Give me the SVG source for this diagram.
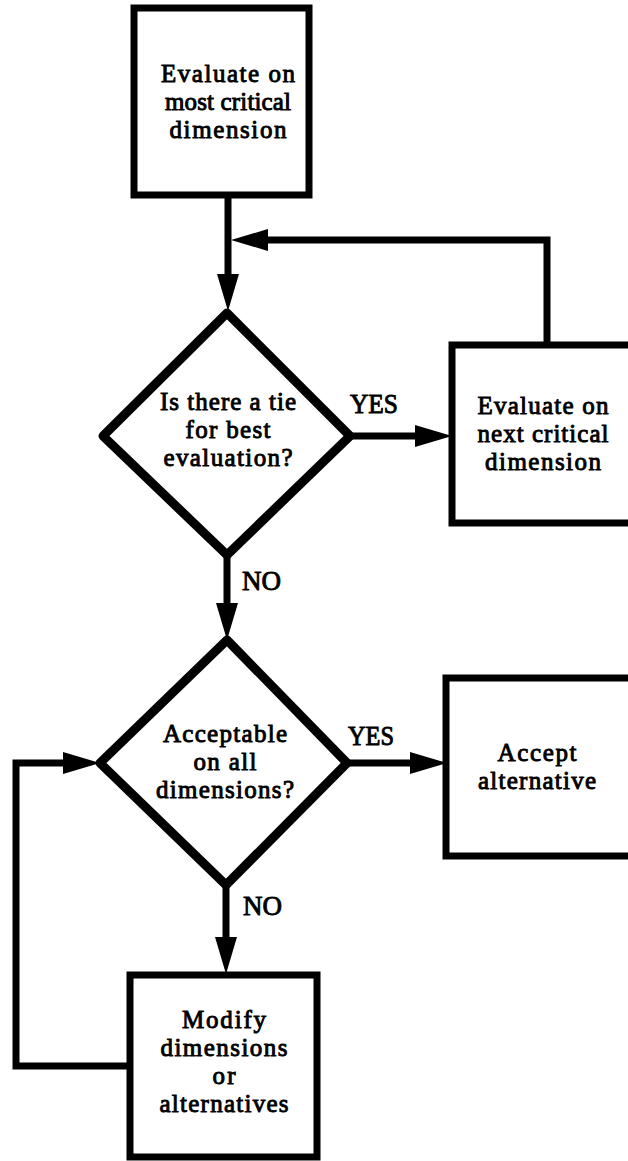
<svg xmlns="http://www.w3.org/2000/svg" width="628" height="1161" viewBox="0 0 628 1161">
  <style>
    .box { fill: #fff; stroke: #000; stroke-width: 7; stroke-linejoin: miter; }
    .dia { fill: #fff; stroke: #000; stroke-width: 9; stroke-linejoin: round; }
    .wire { fill: none; stroke: #000; stroke-width: 7; stroke-linejoin: miter; }
    text { font-family: "Liberation Serif", "Times New Roman", serif; font-size: 25px; fill: #000; stroke: #000; stroke-width: 0.9; }
    .lbl { text-anchor: middle; }
    .tag { font-size: 27px; }
  </style>
  <defs>
    <marker id="head" markerUnits="userSpaceOnUse" markerWidth="37" markerHeight="22" viewBox="0 0 37 22" refX="0" refY="11" orient="auto">
      <path d="M0,0 L37,11 L0,22 Z" fill="#000"/>
    </marker>
  </defs>
  <rect width="628" height="1161" fill="#fff"/>

  <g id="connectors">
    <path class="wire" d="M228,195 V274" marker-end="url(#head)"/>
    <path class="wire" d="M547,345 V240 H268" marker-end="url(#head)"/>
    <path class="wire" d="M350,436 H415" marker-end="url(#head)"/>
    <path class="wire" d="M227,555 V603" marker-end="url(#head)"/>
    <path class="wire" d="M347,763 H410" marker-end="url(#head)"/>
    <path class="wire" d="M226,885 V937" marker-end="url(#head)"/>
    <path class="wire" d="M130,1066 H16 V763 H63" marker-end="url(#head)"/>
    <text class="tag" x="350" y="413" textLength="48" lengthAdjust="spacingAndGlyphs">YES</text>
    <text class="tag" x="242" y="590">NO</text>
    <text class="tag" x="348" y="745" textLength="46" lengthAdjust="spacingAndGlyphs">YES</text>
    <text class="tag" x="243" y="915">NO</text>
  </g>

  <g id="start">
    <rect class="box" x="134" y="8" width="175" height="187"/>
    <text class="lbl" lengthAdjust="spacingAndGlyphs"><tspan x="228" y="82" textLength="134">Evaluate on</tspan><tspan x="228" y="110" textLength="126">most critical</tspan><tspan x="228" y="138" textLength="117">dimension</tspan></text>
  </g>

  <g id="tie">
    <polygon class="dia" points="227,313 350,436 227,555 103,436"/>
    <text class="lbl" lengthAdjust="spacingAndGlyphs"><tspan x="228" y="410" textLength="136">Is there a tie</tspan><tspan x="228" y="438" textLength="85">for best</tspan><tspan x="228" y="466" textLength="129">evaluation?</tspan></text>
  </g>

  <g id="next">
    <rect class="box" x="452" y="345" width="190" height="178"/>
    <text class="lbl" lengthAdjust="spacingAndGlyphs"><tspan x="543" y="414" textLength="131">Evaluate on</tspan><tspan x="543" y="442" textLength="131">next critical</tspan><tspan x="543" y="470" textLength="116">dimension</tspan></text>
  </g>

  <g id="acceptable">
    <polygon class="dia" points="227,640 347,763 226,885 100,763"/>
    <text class="lbl" lengthAdjust="spacingAndGlyphs"><tspan x="225" y="742" textLength="124">Acceptable</tspan><tspan x="225" y="770" textLength="63">on all</tspan><tspan x="225" y="798" textLength="138">dimensions?</tspan></text>
  </g>

  <g id="accept">
    <rect class="box" x="446" y="678" width="196" height="178"/>
    <text class="lbl" lengthAdjust="spacingAndGlyphs"><tspan x="537" y="761" textLength="79">Accept</tspan><tspan x="537" y="789" textLength="118">alternative</tspan></text>
  </g>

  <g id="modify">
    <rect class="box" x="130" y="975" width="187" height="182"/>
    <text class="lbl" lengthAdjust="spacingAndGlyphs"><tspan x="224" y="1028" textLength="84">Modify</tspan><tspan x="224" y="1056" textLength="127">dimensions</tspan><tspan x="224" y="1084" textLength="23">or</tspan><tspan x="224" y="1112" textLength="129">alternatives</tspan></text>
  </g>
</svg>
